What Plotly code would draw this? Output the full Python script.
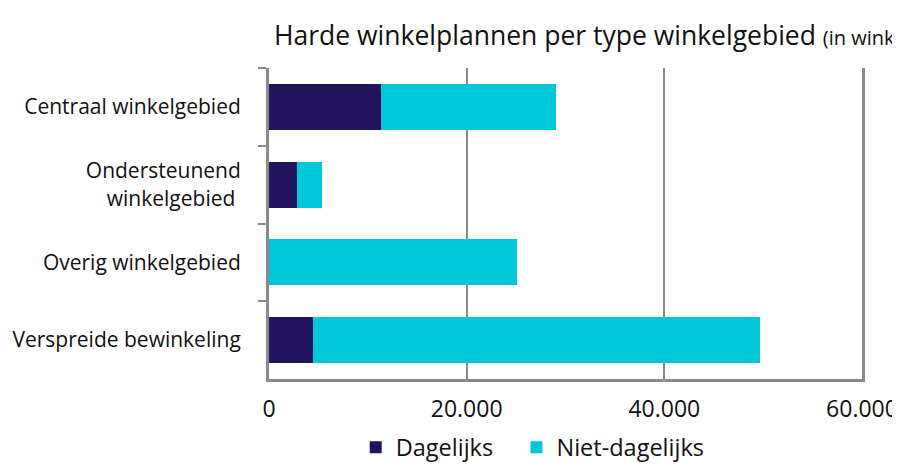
import plotly.graph_objects as go

categories = [
    "Centraal winkelgebied",
    "Ondersteunend<br>winkelgebied ",
    "Overig winkelgebied",
    "Verspreide bewinkeling",
]
dagelijks = [11300, 2800, 0, 4450]
niet_dagelijks = [17700, 2550, 25100, 45250]
x_ticks = [0, 20000, 40000, 60000]

FONT = "Open Sans"
GRAY = "#8a8a8a"

fig = go.Figure()
fig.add_trace(go.Bar(
    y=categories, x=dagelijks, name="Dagelijks\u00a0\u00a0\u00a0", orientation="h",
    marker=dict(color="#22135f", line=dict(width=0)),
))
fig.add_trace(go.Bar(
    y=categories, x=niet_dagelijks, name="Niet-dagelijks", orientation="h",
    marker=dict(color="#00c8d8", line=dict(width=0)),
))

fig.update_layout(
    width=900, height=467,
    barmode="stack", bargap=0.41,
    separators=",.",
    plot_bgcolor="white", paper_bgcolor="white",
    font=dict(family=FONT, color="#111111", size=19),
    margin=dict(l=261, r=46, t=60, b=96, autoexpand=False),
    title=dict(
        text="Harde winkelplannen per type winkelgebied <span style='font-size:20px'>(in winkelvloeroppervlak m²)</span>",
        xref="container", yref="container", x=266 / 900, y=1 - 28 / 467,
        xanchor="left", yanchor="middle",
        font=dict(size=26.5, family=FONT, color="#111111"),
    ),
    legend=dict(
        orientation="h", xref="container", yref="container",
        x=0.583, y=0.012, xanchor="center", yanchor="bottom",
        font=dict(size=23.5, family=FONT), traceorder="normal",
        itemwidth=30,
    ),
    xaxis=dict(
        range=[0, 60000], tickvals=x_ticks, tickformat=",.0f",
        showgrid=True, gridcolor=GRAY, gridwidth=2,
        showline=True, linecolor=GRAY, linewidth=3,
        ticks="", ticklabelstandoff=7, zeroline=False,
        tickfont=dict(size=23), automargin=False,
    ),
    xaxis2=dict(
        overlaying="x", matches="x", side="top", range=[0, 60000],
        tickvals=x_ticks, ticks="outside", ticklen=6, tickwidth=2,
        tickcolor=GRAY, showline=True, linecolor=GRAY, linewidth=3,
        showticklabels=False, showgrid=False, zeroline=False,
        automargin=False,
    ),
    yaxis=dict(
        categoryorder="array", categoryarray=categories, autorange="reversed",
        showline=True, linecolor=GRAY, linewidth=3, mirror=True,
        ticks="outside", ticklen=8, tickwidth=2, tickcolor=GRAY,
        tickson="boundaries", ticklabelstandoff=21,
        tickfont=dict(size=21), automargin=False,
    ),
)

fig.write_html("out.html")
